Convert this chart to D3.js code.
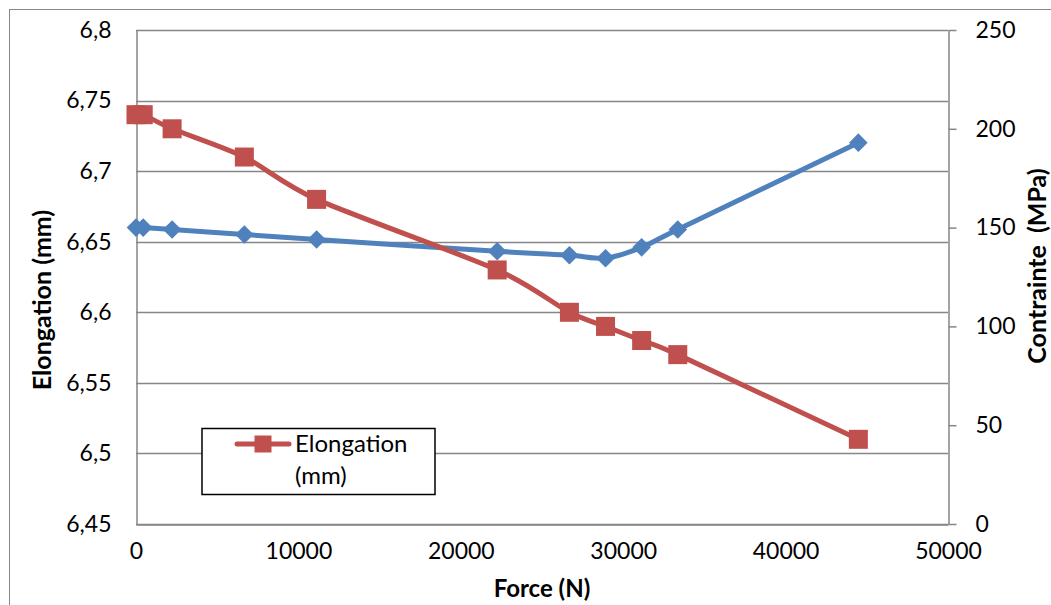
<!DOCTYPE html>
<html><head><meta charset="utf-8">
<script src="https://cdn.jsdelivr.net/npm/d3@7"></script>
<style>body{margin:0;background:#fff}svg{display:block}text{font-family:Lato,"Open Sans",sans-serif}</style>
</head><body>
<svg id="c" width="1051" height="605"></svg>
<script>
const force = [0, 445, 2224, 6672, 11120, 22240, 26688, 28912, 31136, 33360, 44480];
const elongation = [6.74, 6.74, 6.73, 6.71, 6.68, 6.63, 6.60, 6.59, 6.58, 6.57, 6.51];
const contrainte = [150, 150, 149, 146.5, 144, 138, 136, 134.5, 140, 149, 193];
const xTicks = [0, 10000, 20000, 30000, 40000, 50000];
const yLeftTicks = [6.45, 6.5, 6.55, 6.6, 6.65, 6.7, 6.75, 6.8];
const yLeftLabels = ["6,45", "6,5", "6,55", "6,6", "6,65", "6,7", "6,75", "6,8"];
const yRightTicks = [0, 50, 100, 150, 200, 250];

const svg = d3.select("#c");
const L = 136, R = 948, T = 30, B = 524;
const x = d3.scaleLinear().domain([0, 50000]).range([L, R]);
const yL = d3.scaleLinear().domain([6.45, 6.8]).range([B, T]);
const yR = d3.scaleLinear().domain([0, 250]).range([B, T]);
const gray = "#868686";

// outer chart border (cropped)
svg.append("rect").attr("x", 9.5).attr("y", 9.5).attr("width", 1200).attr("height", 800)
  .attr("fill", "none").attr("stroke", gray).attr("stroke-width", 1);

// gridlines
svg.append("g").selectAll("line").data(yLeftTicks).join("line")
  .attr("x1", L).attr("x2", R)
  .attr("y1", d => Math.round(yL(d)) + 0.5).attr("y2", d => Math.round(yL(d)) + 0.5)
  .attr("stroke", gray).attr("stroke-width", 1.5);

// left axis
const gl = svg.append("g").attr("transform", `translate(${L + 0.5},0)`)
  .call(d3.axisLeft(yL).tickValues(yLeftTicks).tickFormat((d, i) => yLeftLabels[i]).tickSize(0).tickPadding(25));
gl.select(".domain").attr("stroke", gray).attr("stroke-width", 1.5);
gl.selectAll("text").attr("font-size", 23).attr("fill", "#000");

// right axis
const gr = svg.append("g").attr("transform", `translate(${R + 0.5},0)`)
  .call(d3.axisRight(yR).tickValues(yRightTicks).tickSizeInner(8).tickSizeOuter(0).tickPadding(19));
gr.select(".domain").attr("stroke", gray).attr("stroke-width", 1.5);
gr.selectAll("line").attr("stroke", gray).attr("stroke-width", 1.5);
gr.selectAll("text").attr("font-size", 23).attr("fill", "#000");

// bottom axis
const gb = svg.append("g").attr("transform", `translate(0,${B + 0.5})`)
  .call(d3.axisBottom(x).tickValues(xTicks).tickFormat(d3.format("d")).tickSize(0).tickPadding(18));
gb.select(".domain").attr("stroke", gray).attr("stroke-width", 1.5);
gb.selectAll("text").attr("font-size", 23).attr("fill", "#000");

// axis titles
svg.append("text").attr("transform", `translate(51,300) rotate(-90)`)
  .attr("text-anchor", "middle").attr("font-size", 25).attr("font-weight", "bold").text("Elongation (mm)");
svg.append("text").attr("transform", `translate(1046,266) rotate(-90)`)
  .attr("text-anchor", "middle").attr("font-size", 25).attr("font-weight", "bold")
  .style("white-space", "pre").text("Contrainte  (MPa)");
svg.append("text").attr("x", (L + R) / 2).attr("y", 597)
  .attr("text-anchor", "middle").attr("font-size", 24).attr("font-weight", "bold").text("Force (N)");

const red = "#C0504D", blue = "#4F81BD";
const curve = d3.curveCardinal.tension(0.2);

// contrainte series (blue, right axis)
const lineB = d3.line().x((d, i) => x(force[i])).y(d => yR(d)).curve(curve);
svg.append("path").datum(contrainte).attr("d", lineB).attr("fill", "none")
  .attr("stroke", blue).attr("stroke-width", 5).attr("stroke-linejoin", "round");
svg.append("g").selectAll("path").data(contrainte).join("path")
  .attr("transform", (d, i) => `translate(${x(force[i])},${yR(d)})`)
  .attr("d", d3.symbol(d3.symbolDiamond2, 220)()).attr("fill", blue);

// elongation series (red, left axis)
const lineR = d3.line().x((d, i) => x(force[i])).y(d => yL(d)).curve(curve);
svg.append("path").datum(elongation).attr("d", lineR).attr("fill", "none")
  .attr("stroke", red).attr("stroke-width", 5).attr("stroke-linejoin", "round");
svg.append("g").selectAll("rect").data(elongation).join("rect")
  .attr("x", (d, i) => x(force[i]) - 9.5).attr("y", d => yL(d) - 9.5)
  .attr("width", 19).attr("height", 19).attr("fill", red);

// legend
const lg = svg.append("g");
lg.append("rect").attr("x", 202).attr("y", 428.5).attr("width", 233).attr("height", 66)
  .attr("fill", "#fff").attr("stroke", "#000").attr("stroke-width", 1.5);
lg.append("line").attr("x1", 237).attr("x2", 289).attr("y1", 444).attr("y2", 444)
  .attr("stroke", red).attr("stroke-width", 5).attr("stroke-linecap", "round");
lg.append("rect").attr("x", 254.5).attr("y", 435.5).attr("width", 17).attr("height", 17).attr("fill", red);
lg.append("text").attr("x", 295).attr("y", 452).attr("font-size", 24).text("Elongation");
lg.append("text").attr("x", 295).attr("y", 484).attr("font-size", 24).text("(mm)");
</script>
</body></html>
